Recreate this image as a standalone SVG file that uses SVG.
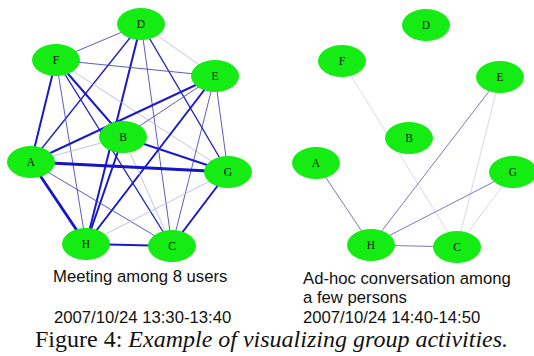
<svg xmlns="http://www.w3.org/2000/svg" width="534" height="356" viewBox="0 0 534 356">
<style>
.n{fill:#14ec14}
.l{font-family:"Liberation Serif","Times New Roman",serif;font-size:11.5px;fill:#111;text-anchor:middle}
.cap{font-family:"Liberation Sans",Arial,sans-serif;font-size:16.7px;fill:#111}
.fig{font-family:"Liberation Serif","Times New Roman",serif;font-size:24px;fill:#111}
.e line{stroke-linecap:round}
.t4{stroke:#1414c8;stroke-width:2.8}
.t3{stroke:#1a1ac8;stroke-width:2}
.t2{stroke:#2424c0;stroke-width:1.4}
.t1{stroke:#4a4ab8;stroke-width:0.9}
.t0{stroke:#b4b4dc;stroke-width:0.8}
.r1{stroke:#7a7ab8;stroke-width:1}
.r0{stroke:#d4d4e8;stroke-width:0.9}
</style>
<rect width="534" height="356" fill="#fff"/>
<g id="connectors" class="e">
<line class="t1" x1="141" y1="24" x2="56" y2="60"/>
<line class="t0" x1="141" y1="24" x2="215" y2="76"/>
<line class="t2" x1="141" y1="24" x2="31" y2="162"/>
<line class="t3" x1="141" y1="24" x2="86" y2="244"/>
<line class="t1" x1="141" y1="24" x2="172" y2="246"/>
<line class="t2" x1="141" y1="24" x2="228" y2="172"/>
<line class="t1" x1="56" y1="60" x2="215" y2="76"/>
<line class="t3" x1="56" y1="60" x2="31" y2="162"/>
<line class="t1" x1="56" y1="60" x2="86" y2="244"/>
<line class="t2" x1="56" y1="60" x2="172" y2="246"/>
<line class="t0" x1="56" y1="60" x2="228" y2="172"/>
<line class="t3" x1="56" y1="60" x2="123" y2="137"/>
<line class="t3" x1="215" y1="76" x2="31" y2="162"/>
<line class="t1" x1="215" y1="76" x2="123" y2="137"/>
<line class="t3" x1="215" y1="76" x2="86" y2="244"/>
<line class="t1" x1="215" y1="76" x2="172" y2="246"/>
<line class="t1" x1="215" y1="76" x2="228" y2="172"/>
<line class="t0" x1="123" y1="137" x2="31" y2="162"/>
<line class="t3" x1="123" y1="137" x2="228" y2="172"/>
<line class="t3" x1="123" y1="137" x2="86" y2="244"/>
<line class="t0" x1="123" y1="137" x2="172" y2="246"/>
<line class="t4" x1="31" y1="162" x2="228" y2="172"/>
<line class="t4" x1="31" y1="162" x2="86" y2="244"/>
<line class="t1" x1="31" y1="162" x2="172" y2="246"/>
<line class="t0" x1="228" y1="172" x2="86" y2="244"/>
<line class="t3" x1="228" y1="172" x2="172" y2="246"/>
<line class="t3" x1="86" y1="244" x2="172" y2="246"/>
<line class="r0" x1="342" y1="61" x2="457" y2="247"/>
<line class="r1" x1="500" y1="77" x2="371" y2="245"/>
<line class="r0" x1="500" y1="77" x2="457" y2="247"/>
<line class="r1" x1="513" y1="172" x2="371" y2="245"/>
<line class="r0" x1="513" y1="172" x2="457" y2="247"/>
<line class="r1" x1="316" y1="163" x2="371" y2="245"/>
<line class="r1" x1="371" y1="245" x2="457" y2="247"/>
</g>
<g id="L-D"><ellipse class="n" cx="141" cy="24" rx="24" ry="16"/><text class="l" x="141" y="28">D</text></g>
<g id="L-F"><ellipse class="n" cx="56" cy="60" rx="24" ry="16"/><text class="l" x="56" y="64">F</text></g>
<g id="L-E"><ellipse class="n" cx="215" cy="76" rx="24" ry="16"/><text class="l" x="215" y="80">E</text></g>
<g id="L-B"><ellipse class="n" cx="123" cy="137" rx="24" ry="16"/><text class="l" x="123" y="141">B</text></g>
<g id="L-A"><ellipse class="n" cx="31" cy="162" rx="24" ry="16"/><text class="l" x="31" y="166">A</text></g>
<g id="L-G"><ellipse class="n" cx="228" cy="172" rx="24" ry="16"/><text class="l" x="228" y="176">G</text></g>
<g id="L-H"><ellipse class="n" cx="86" cy="244" rx="24" ry="16"/><text class="l" x="86" y="248">H</text></g>
<g id="L-C"><ellipse class="n" cx="172" cy="246" rx="24" ry="16"/><text class="l" x="172" y="250">C</text></g>
<g id="R-D"><ellipse class="n" cx="426" cy="25" rx="24" ry="16"/><text class="l" x="426" y="29">D</text></g>
<g id="R-F"><ellipse class="n" cx="342" cy="61" rx="24" ry="16"/><text class="l" x="342" y="65">F</text></g>
<g id="R-E"><ellipse class="n" cx="500" cy="77" rx="24" ry="16"/><text class="l" x="500" y="81">E</text></g>
<g id="R-B"><ellipse class="n" cx="409" cy="138" rx="24" ry="16"/><text class="l" x="409" y="142">B</text></g>
<g id="R-A"><ellipse class="n" cx="316" cy="163" rx="24" ry="16"/><text class="l" x="316" y="167">A</text></g>
<g id="R-G"><ellipse class="n" cx="513" cy="172" rx="24" ry="16"/><text class="l" x="513" y="176">G</text></g>
<g id="R-H"><ellipse class="n" cx="371" cy="245" rx="24" ry="16"/><text class="l" x="371" y="249">H</text></g>
<g id="R-C"><ellipse class="n" cx="457" cy="247" rx="24" ry="16"/><text class="l" x="457" y="251">C</text></g>
<g id="captions">
<text class="cap" x="53" y="282">Meeting among 8 users</text>
<text class="cap" x="54" y="323">2007/10/24 13:30-13:40</text>
<text class="cap" x="303" y="284">Ad-hoc conversation among</text>
<text class="cap" x="303" y="303">a few persons</text>
<text class="cap" x="303" y="323">2007/10/24 14:40-14:50</text>
<text class="fig" x="35" y="347">Figure 4: <tspan font-style="italic">Example of visualizing group activities.</tspan></text>
</g>
</svg>
